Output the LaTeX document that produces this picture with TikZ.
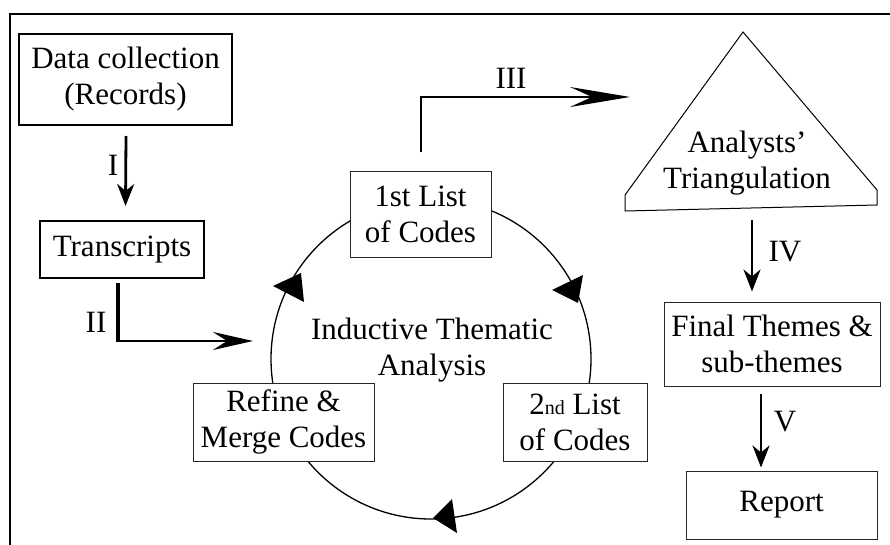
\documentclass[tikz,border=0pt]{standalone}
\usepackage{fontspec}
\setmainfont{Liberation Serif}
\usetikzlibrary{arrows.meta}
\begin{document}
\begin{tikzpicture}[x=1pt,y=-1pt,
  font=\fontsize{31}{36}\selectfont,
  thickbox/.style={draw,line width=2pt,inner sep=0pt,align=center,fill=white},
  thinbox/.style={draw=black!85,line width=1pt,inner sep=0pt,align=center,fill=white},
  lbl/.style={inner sep=0pt},
  shaft/.style={line width=2.8pt},
  headA/.style={-{Stealth[length=22pt,width=17pt,inset=7pt]}},
  headB/.style={-{Stealth[length=40pt,width=18pt,inset=14pt]}},
  headC/.style={-{Stealth[length=60pt,width=20pt,inset=22pt]}},
  cyc/.style={fill=black}]
\useasboundingbox (0,0) rectangle (890,545);
% frame
\draw[line width=2pt] (890,14) -- (10,14) -- (10,545);
% cycle
\draw[line width=1.3pt] (431,359) circle[radius=160pt];
\fill[cyc] (552,290) -- (583,275) -- (578,303) -- cycle;
\fill[cyc] (273,286) -- (301,273) -- (304,302) -- cycle;
\fill[cyc] (433,518) -- (452,499) -- (457,533) -- cycle;
% nodes
\node[thickbox,minimum width=213,minimum height=91] (data) at (125.5,79.5) {Data collection\\(Records)};
\node[thickbox,minimum width=164,minimum height=57] (trans) at (122,249.5) {Transcripts};
\node[thinbox,minimum width=141,minimum height=85] (list1) at (420.5,214.5) {1st List\\of Codes};
\node[thinbox,minimum width=181,minimum height=78] (refine) at (283.5,422) {Refine \&\\Merge Codes};
\node[thinbox,minimum width=144,minimum height=78] (list2) at (575,422) {2{\fontsize{20}{20}\selectfont nd} List\\of Codes};
\node[lbl,align=center] (ita) at (432,350) {Inductive Thematic\\Analysis};
% triangle
\draw[line width=1pt] (743,32) -- (877,190) -- (877,205) -- (625,211) -- (625,195) -- cycle;
\node[lbl,align=center] (tri) at (747,163) {Analysts'\\Triangulation};
\node[thinbox,minimum width=216,minimum height=84] (final) at (772,344) {Final Themes \&\\sub-themes};
\node[thinbox,minimum width=191,minimum height=68] (report) at (781.5,505) {Report};
% connectors
\coordinate (iiend) at (253,341);
\coordinate (iiiend) at (630,97);
\coordinate (trib) at (752,212);
\draw[shaft,headA] ([xshift=0.5pt,yshift=-10pt]data.south) -- ([yshift=14pt]data.south |- trans.north);
\node[lbl] (lI) at (113,165) {I};
\draw[line width=3.2pt] ([xshift=-4pt,yshift=-4pt]trans.south) -- ([xshift=-4pt]trans.south |- iiend);
\draw[shaft,headB] ([xshift=-6pt]trans.south |- iiend) -- (iiend);
\node[lbl] (lII) at (96,322) {II};
\draw[shaft,headC] ([xshift=0.5pt,yshift=19pt]list1.north) |- (iiiend);
\node[lbl] (lIII) at (511,78) {III};
\draw[shaft,headA] ([yshift=-8pt]trib) -- ([xshift=-20pt,yshift=10pt]final.north);
\node[lbl] (lIV) at (785,252) {IV};
\draw[shaft,headA] ([xshift=-11pt,yshift=-7pt]final.south) -- ([xshift=-20.5pt,yshift=3pt]report.north);
\node[lbl] (lV) at (785,422) {V};
\end{tikzpicture}
\end{document}
